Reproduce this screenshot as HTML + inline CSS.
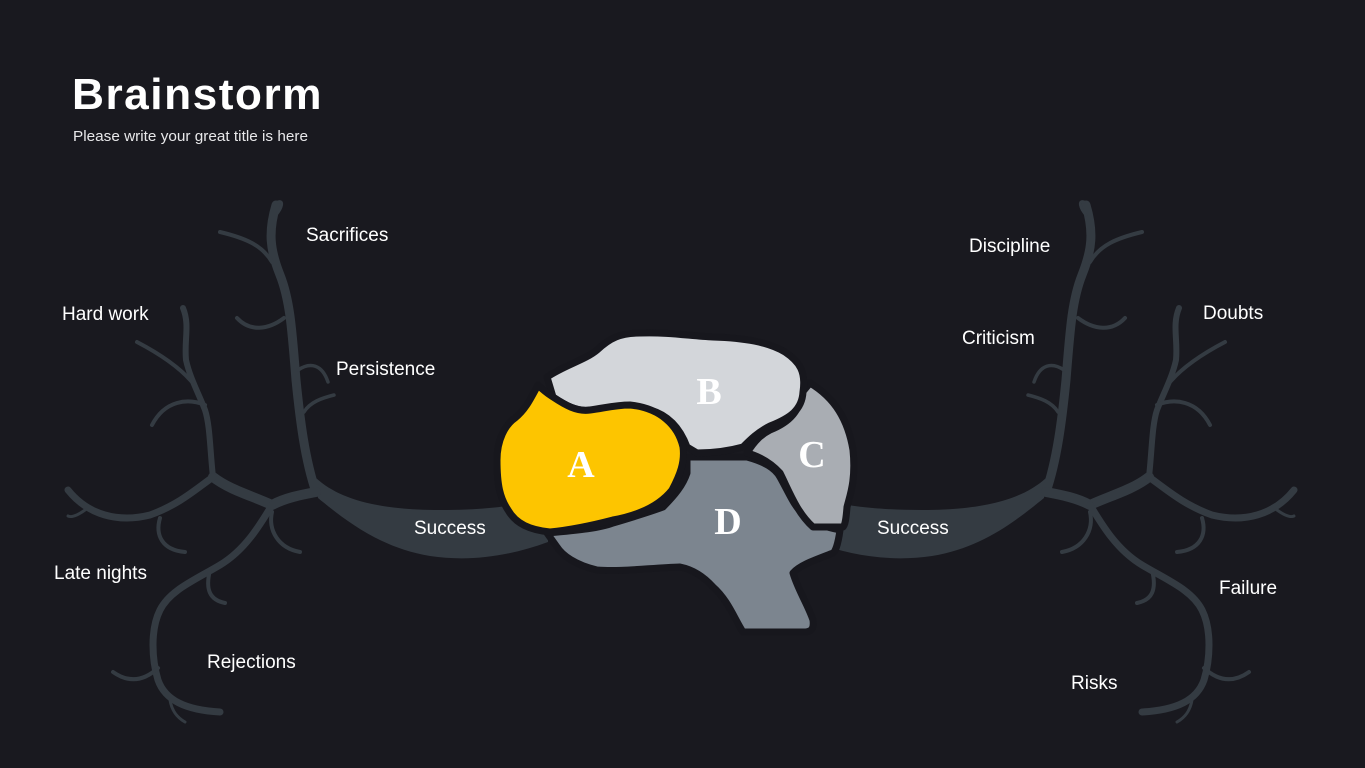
<!DOCTYPE html>
<html><head><meta charset="utf-8"><style>
html,body{margin:0;padding:0;background:#19191f;}
body{width:1365px;height:768px;overflow:hidden;position:relative;font-family:"Liberation Sans",sans-serif;}
svg{position:absolute;left:0;top:0;}
</style></head><body>
<svg width="1365" height="768" viewBox="0 0 1365 768">
<rect width="1365" height="768" fill="#19191f"/>
<defs>
<g id="tree" fill="none" stroke="#343b42" stroke-linecap="round" stroke-linejoin="round">
  <path d="M316,478 C340,500 380,510 440,510 C490,510 520,505 548,498 L548,542 C510,556 470,562 430,556 C380,548 345,520 318,498 Z" fill="#343b42" stroke="none"/>
  <path d="M316,492 C305,460 300,420 296,380 C292,330 290,300 280,275 C270,250 268,232 276,205" stroke-width="9"/>
  <path d="M276,215 C282,208 284,200 278,202" stroke-width="3"/>
  <path d="M272,262 C262,245 245,238 220,232" stroke-width="4"/>
  <path d="M284,318 C268,330 250,332 237,318" stroke-width="4"/>
  <path d="M298,370 C310,362 322,364 328,382" stroke-width="3.5"/>
  <path d="M304,412 C310,402 322,398 334,395" stroke-width="3.5"/>
  <path d="M316,492 C300,495 285,498 272,505 C250,495 230,490 213,477" stroke-width="10"/>
  <path d="M213,477 C210,450 210,425 205,410 C198,392 190,378 186,360 C184,340 190,325 183,308" stroke-width="6"/>
  <path d="M192,382 C180,368 160,354 137,342" stroke-width="4"/>
  <path d="M205,405 C188,398 165,400 152,425" stroke-width="4"/>
  <path d="M213,477 C195,490 178,505 150,515 C118,523 88,515 68,490" stroke-width="7"/>
  <path d="M85,510 C78,515 72,518 68,516" stroke-width="3"/>
  <path d="M160,518 C155,535 162,550 185,552" stroke-width="4"/>
  <path d="M272,505 C260,525 245,550 220,565 C195,580 170,590 160,610 C150,630 152,660 158,680 C165,700 185,710 220,712" stroke-width="7"/>
  <path d="M158,668 C145,680 130,684 113,672" stroke-width="4"/>
  <path d="M170,700 C172,712 178,718 185,722" stroke-width="3"/>
  <path d="M210,570 C205,590 210,600 225,603" stroke-width="4"/>
  <path d="M272,512 C268,530 278,548 300,552" stroke-width="4"/>
</g>
</defs>
<use href="#tree"/>
<use href="#tree" transform="translate(1362,0) scale(-1,1)"/>
<g stroke="#17171d" stroke-width="7" stroke-linejoin="round">
  <path d="M687,457 L747,457 C765,462 775,468 780,477 C790,495 795,508 803,513 C815,525 830,528 840,530 C838,545 835,552 833,553 C815,560 800,565 793,573 C798,590 808,605 813,620 C814,628 812,631 806,632 L743,632 C735,620 728,600 713,587 C705,578 695,570 680,567 C650,568 620,572 597,570 C575,565 562,555 557,547 L547,533 C580,530 600,528 613,523 C640,515 655,510 663,507 C675,495 683,485 687,473 Z" fill="#7c858f"/>
  <path d="M810,383 C835,398 848,420 853,450 C856,480 850,495 847,507 C846,520 845,525 843,527 L813,527 C805,520 800,512 797,507 C790,495 786,485 780,473 C770,462 758,456 747,453 C755,440 762,434 770,430 C790,422 800,410 800,395 Z" fill="#a9adb3"/>
  <path d="M547,377 C565,365 585,360 597,350 C610,338 620,333 640,333 C670,332 690,336 713,337 C745,338 768,342 785,352 C800,362 806,372 803,392 C802,410 790,418 770,426 C758,432 750,440 743,447 C725,452 710,453 697,453 L687,447 C680,428 668,415 650,410 C630,405 600,410 590,410 C577,412 565,405 553,397 Z" fill="#d3d6da"/>
  <path d="M538,385 C545,392 550,395 553,397 C565,405 577,412 590,410 C605,408 615,405 630,405 C660,408 678,425 683,447 C685,462 680,475 672,490 C660,505 640,515 613,520 C590,526 570,530 550,532 C530,530 516,524 508,510 C500,498 497,485 497,460 C497,440 505,425 515,418 C525,410 530,400 538,385 Z" fill="#fdc500"/>
</g>
<g font-family="'Liberation Serif','DejaVu Serif',serif" font-weight="bold" font-size="38" fill="#fff" text-anchor="middle">
  <text x="581" y="477">A</text>
  <text x="709" y="404">B</text>
  <text x="812" y="467">C</text>
  <text x="728" y="534">D</text>
</g>
<text x="72" y="109" font-family="'Liberation Sans',sans-serif" font-weight="bold" font-size="44" letter-spacing="1.5" textLength="251" lengthAdjust="spacingAndGlyphs" fill="#fff">Brainstorm</text>
<text x="73" y="141" font-family="'Liberation Sans',sans-serif" font-size="14.5" textLength="235" lengthAdjust="spacingAndGlyphs" fill="#e8e8ea">Please write your great title is here</text>
<g font-family="'Liberation Sans',sans-serif" font-size="19" fill="#fff">
  <text x="306" y="241">Sacrifices</text>
  <text x="62" y="320">Hard work</text>
  <text x="336" y="375">Persistence</text>
  <text x="414" y="534">Success</text>
  <text x="54" y="579">Late nights</text>
  <text x="207" y="668">Rejections</text>
  <text x="969" y="252">Discipline</text>
  <text x="962" y="344">Criticism</text>
  <text x="1203" y="319">Doubts</text>
  <text x="877" y="534">Success</text>
  <text x="1219" y="594">Failure</text>
  <text x="1071" y="689">Risks</text>
</g>
</svg>
</body></html>
